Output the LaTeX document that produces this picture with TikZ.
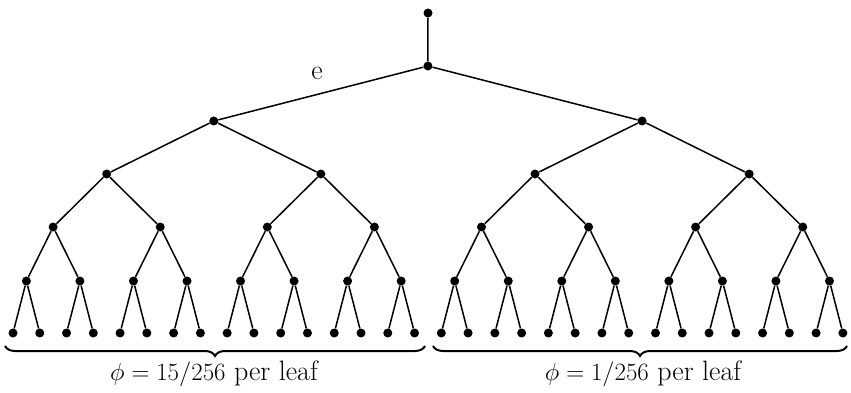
\documentclass[tikz,border=0pt]{standalone}
\usetikzlibrary{decorations.pathreplacing}
\begin{document}
\begin{tikzpicture}[x=1pt,y=-1pt,
  dot/.style={circle,fill=black,draw=none,inner sep=0pt,minimum size=9pt},
  edge/.style={line width=1.5pt},
  lbl/.style={font=\fontsize{28}{33}\selectfont,inner sep=0pt},
  brc/.style={line width=2pt,decorate,decoration={brace,mirror,amplitude=10pt}}]
\useasboundingbox (0,0) rectangle (851,393);
\foreach \d/\yy in {1/66,2/121,3/174,4/227,5/281,6/333} {
  \pgfmathtruncatemacro\n{2^(\d-1)-1}
  \pgfmathsetmacro\g{2^(6-\d)}
  \foreach \j in {0,...,\n} {
    \pgfmathsetmacro\xx{13+(\g*\j+(\g-1)/2)*26.77}
    \node[dot] (n\d-\j) at (\xx,\yy) {};
  }
}
\node[dot] (top) at (428,13) {};
\draw[edge] (top) -- (n1-0);
\foreach \d in {2,...,6} {
  \pgfmathtruncatemacro\n{2^(\d-1)-1}
  \pgfmathtruncatemacro\p{\d-1}
  \foreach \j in {0,...,\n} {
    \pgfmathtruncatemacro\q{floor(\j/2)}
    \draw[edge] (n\p-\q) -- (n\d-\j);
  }
}
\node[lbl] (e) at (317,73) {e};
\coordinate (bl1) at (5,346);
\coordinate (bl2) at (425,346);
\coordinate (br1) at (433,346);
\coordinate (br2) at (847,346);
\draw[brc] (bl1) -- (bl2);
\draw[brc] (br1) -- (br2);
\node[lbl] (phl) at (214,374) {$\phi = 15/256$ per leaf};
\node[lbl] (phr) at (643,374) {$\phi = 1/256$ per leaf};
\end{tikzpicture}
\end{document}
